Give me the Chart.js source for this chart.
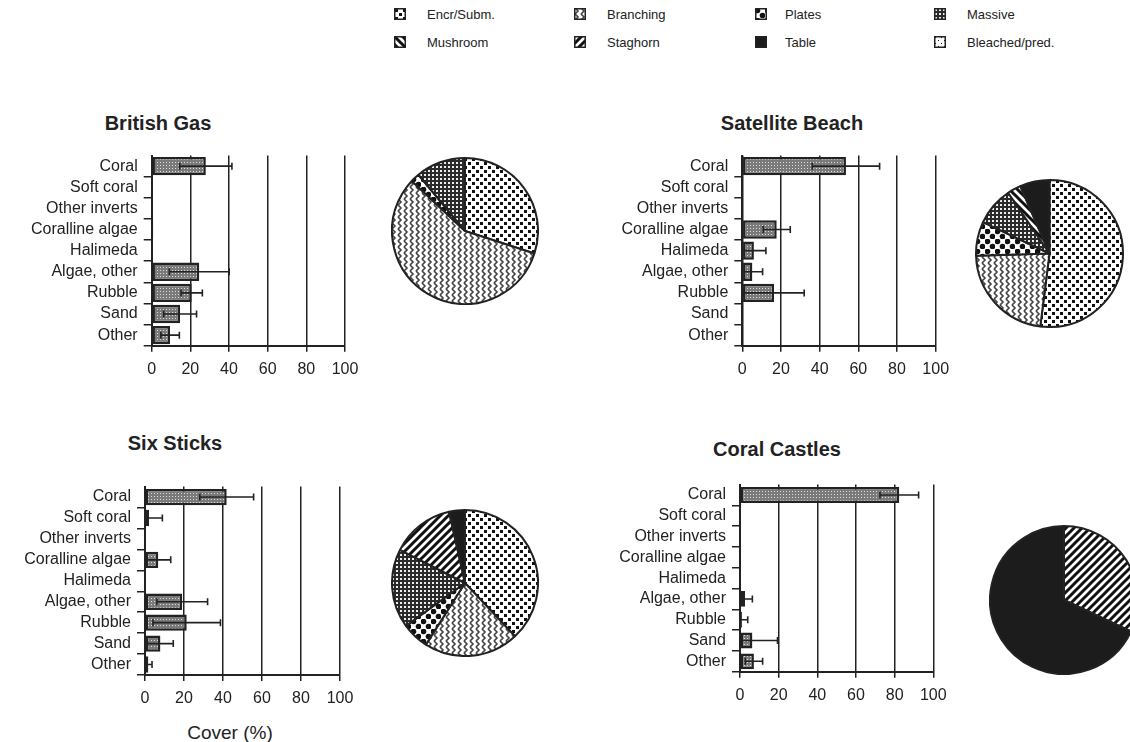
<!DOCTYPE html>
<html>
<head>
<meta charset="utf-8">
<title>Benthic cover and coral types</title>
<script src="https://cdn.jsdelivr.net/npm/chart.js@4.4.1/dist/chart.umd.min.js"></script>
<style>
  body { margin: 0; width: 1130px; height: 742px; overflow: hidden; background: #fff;
         font-family: "Liberation Sans", Arial, sans-serif; color: #222; position: relative; }
  canvas { position: absolute; }
  .title { position: absolute; font-weight: bold; font-size: 20px; line-height: 1;
           transform: translate(-50%, -50%); white-space: nowrap; }
  .axis-title { position: absolute; font-size: 19px; line-height: 1;
                transform: translate(-50%, -50%); white-space: nowrap; }
  .legend-text { position: absolute; font-size: 13px; line-height: 1;
                 transform: translateY(-50%); white-space: nowrap; }
</style>
</head>
<body>

<div id="legend"></div>

<div class="title" style="left:158px; top:123px">British Gas</div>
<div class="title" style="left:792px; top:123px">Satellite Beach</div>
<div class="title" style="left:175px; top:443px">Six Sticks</div>
<div class="title" style="left:777px; top:449px">Coral Castles</div>
<div class="axis-title" style="left:230px; top:732px">Cover (%)</div>

<canvas id="bar-british"></canvas>
<canvas id="bar-satellite"></canvas>
<canvas id="bar-six"></canvas>
<canvas id="bar-castles"></canvas>
<canvas id="pie-british"></canvas>
<canvas id="pie-satellite"></canvas>
<canvas id="pie-six"></canvas>
<canvas id="pie-castles"></canvas>

<script>
// benthic categories (bar charts)
const categories = ['Coral', 'Soft coral', 'Other inverts', 'Coralline algae', 'Halimeda',
                    'Algae, other', 'Rubble', 'Sand', 'Other'];
const xTicks = [0, 20, 40, 60, 80, 100];

// mean cover (%) and standard deviation per site
const britishGasMean = [28, 0, 0.6, 0.8, 0, 24.6, 20.7, 14.7, 9.5];
const britishGasSd   = [13.5, 0, 0, 0, 0, 15.5, 5.5, 8.5, 4.8];
const satelliteMean  = [53.6, 0, 0, 17.8, 6.0, 5.2, 16.4, 0.5, 0.5];
const satelliteSd    = [17.4, 0, 0, 7, 6.2, 5.3, 15.6, 0, 0];
const sixSticksMean  = [41.9, 2.1, 0, 6.8, 0, 19.1, 21.4, 7.9, 1.7];
const sixSticksSd    = [13.8, 6.8, 0, 6.4, 0, 13, 17.3, 6.6, 1.9];
const castlesMean    = [82.4, 0, 0, 0, 0, 2.6, 1.0, 6.4, 7.2];
const castlesSd      = [10, 0, 0, 0, 0, 3.8, 3, 13, 4.5];

// coral growth forms (pie charts), share of coral cover
const coralTypes = ['Encr/Subm.', 'Branching', 'Plates', 'Massive', 'Mushroom', 'Staghorn', 'Table', 'Bleached/pred.'];
const britishGasCoral = [30, 57, 2, 11, 0, 0, 0, 0];
const satelliteCoral  = [52, 22.5, 7.5, 8.5, 3, 0, 6.5, 0];
const sixSticksCoral  = [38, 21, 6, 17.5, 0, 14, 3.5, 0];
const castlesCoral    = [0, 0, 0, 0, 0, 32, 68, 0];

const INK = '#222';

Chart.defaults.font.family = '"Liberation Sans", Arial, sans-serif';
Chart.defaults.font.size = 16;
Chart.defaults.color = INK;

function tile(w, h, draw) {
    const c = document.createElement('canvas');
    c.width = w;
    c.height = h;
    const g = c.getContext('2d');
    g.fillStyle = '#fff';
    g.fillRect(0, 0, w, h);
    draw(g);
    return g.createPattern(c, 'repeat');
}

function stripes(g, dir) {
    g.strokeStyle = '#111';
    g.lineWidth = 3;
    g.beginPath();
    if (dir === 'back') {
        g.moveTo(-1, -1); g.lineTo(9, 9);
        g.moveTo(-1, 7); g.lineTo(1, 9);
        g.moveTo(7, -1); g.lineTo(9, 1);
    } else {
        g.moveTo(-1, 9); g.lineTo(9, -1);
        g.moveTo(-1, 1); g.lineTo(1, -1);
        g.moveTo(7, 9); g.lineTo(9, 7);
    }
    g.stroke();
}

const coralPatterns = [
    tile(8, 8, g => { g.fillStyle = '#111'; g.fillRect(1, 1, 3, 3); g.fillRect(5, 5, 3, 3); }),
    tile(6, 6, g => {
        g.strokeStyle = '#444'; g.lineWidth = 1.6;
        g.beginPath(); g.moveTo(1, 0); g.lineTo(4, 3); g.lineTo(1, 6); g.stroke();
    }),
    tile(10, 10, g => {
        g.fillStyle = '#111';
        g.beginPath(); g.arc(2.5, 2.5, 2.8, 0, Math.PI * 2); g.fill();
        g.beginPath(); g.arc(7.5, 7.5, 2.8, 0, Math.PI * 2); g.fill();
    }),
    tile(4, 4, g => { g.fillStyle = '#2a2a2a'; g.fillRect(0, 0, 4, 4); g.fillStyle = '#eee'; g.fillRect(1, 1, 2, 2); }),
    tile(8, 8, g => stripes(g, 'back')),
    tile(8, 8, g => stripes(g, 'fwd')),
    '#1c1c1c',
    tile(6, 6, g => { g.fillStyle = '#111'; g.fillRect(1, 1, 1, 1); g.fillRect(4, 4, 1, 1); })
];

const barFill = tile(3, 3, g => {
    g.fillStyle = '#7a7a7a'; g.fillRect(0, 0, 3, 3);
    g.fillStyle = '#dddddd'; g.fillRect(1, 1, 1, 1);
});

// error bars drawn from the bar value +/- sd
const errorBars = {
    id: 'errorBars',
    afterDatasetsDraw(chart, args, opts) {
        const {ctx, chartArea, scales: {x, y}} = chart;
        const means = chart.data.datasets[0].data;
        ctx.save();
        ctx.beginPath();
        ctx.rect(chartArea.left, chartArea.top - 10, chartArea.width + 20, chartArea.height + 20);
        ctx.clip();
        ctx.strokeStyle = INK;
        ctx.lineWidth = 1.6;
        means.forEach((m, i) => {
            const sd = opts.sd[i];
            if (!sd) return;
            const yc = y.getPixelForValue(i);
            const x1 = x.getPixelForValue(m - sd);
            const x2 = x.getPixelForValue(m + sd);
            ctx.beginPath();
            ctx.moveTo(x1, yc); ctx.lineTo(x2, yc);
            ctx.moveTo(x1, yc - 3.5); ctx.lineTo(x1, yc + 3.5);
            ctx.moveTo(x2, yc - 3.5); ctx.lineTo(x2, yc + 3.5);
            ctx.stroke();
        });
        ctx.restore();
    }
};

function place(canvas, left, top, width, height) {
    canvas.width = width;
    canvas.height = height;
    canvas.style.left = left + 'px';
    canvas.style.top = top + 'px';
}

function makeBar(id, box, area, means, sds, barPct) {
    const canvas = document.getElementById(id);
    place(canvas, box.left, box.top, box.width, box.height);
    return new Chart(canvas, {
        type: 'bar',
        data: {
            labels: categories,
            datasets: [{
                data: means,
                backgroundColor: barFill,
                borderColor: INK,
                borderWidth: 2.5,
                borderSkipped: false,
                barPercentage: barPct,
                categoryPercentage: 1
            }]
        },
        options: {
            indexAxis: 'y',
            responsive: false,
            animation: false,
            layout: {
                padding: {
                    left: 0,
                    top: area.top - box.top,
                    right: box.left + box.width - area.right,
                    bottom: 0
                }
            },
            plugins: {
                legend: { display: false },
                tooltip: { enabled: false },
                errorBars: { sd: sds }
            },
            scales: {
                x: {
                    min: 0,
                    max: 100,
                    afterBuildTicks: s => { s.ticks = xTicks.map(v => ({ value: v })); },
                    grid: { color: INK, lineWidth: 1.5, tickLength: 6 },
                    border: { color: INK, width: 2 },
                    ticks: { padding: 8, font: { size: 16 } },
                    afterFit: s => { s.height = box.top + box.height - area.bottom; }
                },
                y: {
                    grid: {
                        offset: true,
                        drawOnChartArea: false,
                        tickLength: 8,
                        lineWidth: 1.5,
                        color: c => (c.index === 0 || c.index === categories.length) ? 'rgba(0,0,0,0)' : INK
                    },
                    border: { color: INK, width: 2 },
                    ticks: { padding: 6, autoSkip: false, font: { size: 16 } },
                    afterFit: s => { s.width = area.left - box.left; }
                }
            }
        },
        plugins: [errorBars]
    });
}

function makePie(id, cx, cy, r, values) {
    const canvas = document.getElementById(id);
    const size = Math.round(2 * r + 2);
    place(canvas, Math.round(cx - size / 2), Math.round(cy - size / 2), size, size);
    return new Chart(canvas, {
        type: 'pie',
        data: {
            labels: coralTypes,
            datasets: [{
                data: values,
                backgroundColor: coralPatterns,
                borderColor: INK,
                borderWidth: 2
            }]
        },
        options: {
            responsive: false,
            animation: false,
            plugins: { legend: { display: false }, tooltip: { enabled: false } }
        }
    });
}

function buildLegend() {
    const legend = document.getElementById('legend');
    const iconX = [400, 580, 761, 940];
    const textX = [427, 607, 785, 967];
    const rowY = [14, 42];
    coralTypes.forEach((name, i) => {
        const col = i % 4;
        const row = Math.floor(i / 4);
        const icon = document.createElement('canvas');
        place(icon, iconX[col] - 6, rowY[row] - 6, 12, 12);
        const g = icon.getContext('2d');
        g.fillStyle = coralPatterns[i];
        g.fillRect(0, 0, 12, 12);
        g.strokeStyle = INK;
        g.lineWidth = 1.5;
        g.strokeRect(0.75, 0.75, 10.5, 10.5);
        legend.appendChild(icon);
        const label = document.createElement('div');
        label.className = 'legend-text';
        label.style.left = textX[col] + 'px';
        label.style.top = rowY[row] + 'px';
        label.textContent = name;
        legend.appendChild(label);
    });
}

buildLegend();

makeBar('bar-british', { left: 0, top: 140, width: 370, height: 250 },
        { left: 151.7, top: 150, right: 345, bottom: 345.7 }, britishGasMean, britishGasSd, 0.87);
makeBar('bar-satellite', { left: 560, top: 140, width: 400, height: 250 },
        { left: 742.3, top: 150, right: 935.7, bottom: 345.7 }, satelliteMean, satelliteSd, 0.87);
makeBar('bar-six', { left: 0, top: 471, width: 365, height: 245 },
        { left: 145, top: 481, right: 340, bottom: 675 }, sixSticksMean, sixSticksSd, 0.78);
makeBar('bar-castles', { left: 560, top: 469, width: 400, height: 245 },
        { left: 740, top: 479.3, right: 933.3, bottom: 671.7 }, castlesMean, castlesSd, 0.76);

makePie('pie-british', 465, 231, 73, britishGasCoral);
makePie('pie-satellite', 1049.5, 253, 73.5, satelliteCoral);
makePie('pie-six', 465, 583, 73, sixSticksCoral);
makePie('pie-castles', 1064, 600, 74, castlesCoral);
</script>
</body>
</html>
